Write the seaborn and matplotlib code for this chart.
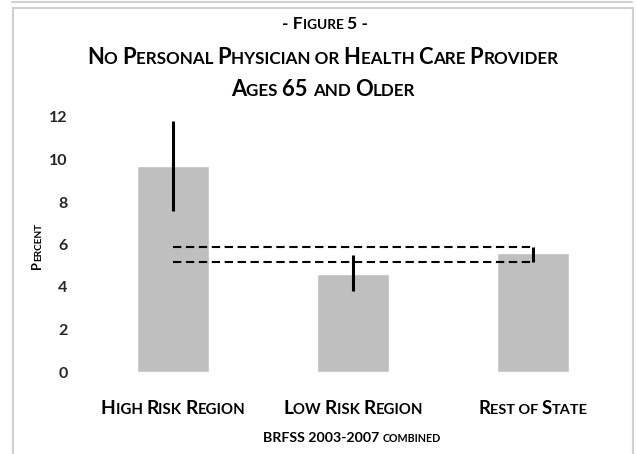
import numpy as np
import pandas as pd
import matplotlib
matplotlib.use("Agg")
import matplotlib.pyplot as plt
import seaborn as sns
from matplotlib.lines import Line2D

# ---- data ----
categories = ["High Risk Region", "Low Risk Region", "Rest of State"]
values = [9.7, 4.6, 5.6]
ci_low = [7.6, 3.8, 5.2]
ci_high = [11.8, 5.5, 5.9]
y_ticks = [0, 2, 4, 6, 8, 10, 12]
title_lines = ["- Figure 5 -", "No Personal Physician or Health Care Provider", "Ages 65 and Older"]
y_label = "Percent"
x_caption = "BRFSS 2003-2007 combined"

W, H = 637, 454
sns.set_theme(style="white")
FONT = ["Lato", "DejaVu Sans"]
plt.rcParams["font.family"] = FONT

fig = plt.figure(figsize=(W / 100, H / 100), dpi=100)
fig.patch.set_facecolor("white")
ax = fig.add_axes([83 / W, 1 - 372 / H, 540 / W, 255 / H])

df = pd.DataFrame({"region": categories, "pct": values})
sns.barplot(data=df, x="region", y="pct", color="#BFBFBF", saturation=1,
            width=0.4, errorbar=None, ax=ax)
# confidence intervals
ax.vlines(np.arange(len(categories)), ci_low, ci_high, color="black", lw=2.2, zorder=3)
# reference band of Rest of State
ax.hlines([ci_low[2], ci_high[2]], 0, len(categories) - 1, color="black", lw=1.5,
          linestyles=(0, (4, 2.2)), zorder=3)

ax.set_xlim(-0.5, 2.5)
ax.set_ylim(0, 12)
ax.set_yticks(y_ticks)
ax.set_yticklabels([str(t) for t in y_ticks], fontsize=11.5, fontweight="bold")
ax.tick_params(axis="y", length=0, pad=11)
ax.set_xticks(range(len(categories)))
ax.set_xticklabels([])
ax.tick_params(axis="x", length=0)
ax.set_xlabel("")
ax.set_ylabel("")
for s in ax.spines.values():
    s.set_visible(False)

renderer = fig.canvas.get_renderer()


def runs_of(text):
    runs = []
    for ch in text:
        small = ch.islower()
        if ch == " " and runs:
            small = runs[-1][1]
        if runs and runs[-1][1] == small:
            runs[-1][0] += ch.upper()
        else:
            runs.append([ch.upper(), small])
    return runs


def measure(s, size):
    t = fig.text(0, 0, "X" + s + "X", fontsize=size, fontweight="bold", family=FONT)
    w1 = t.get_window_extent(renderer).width
    t.set_text("XX")
    w0 = t.get_window_extent(renderer).width
    t.remove()
    return w1 - w0


def layout(text, big, ratio, target=None):
    runs = runs_of(text)
    if target is not None:
        sizes = [big * ratio if sm else big for _, sm in runs]
        tot = sum(measure(r, s) for (r, _), s in zip(runs, sizes))
        big = big * target / tot
    sizes = [big * ratio if sm else big for _, sm in runs]
    widths = [measure(r, s) for (r, _), s in zip(runs, sizes)]
    return runs, sizes, widths


def smallcaps(text, x, y, big, ratio=0.78, target=None):
    runs, sizes, widths = layout(text, big, ratio, target)
    pos = x - sum(widths) / 2
    for (r, _), s, w in zip(runs, sizes, widths):
        fig.text(pos / W, 1 - y / H, r, fontsize=s, fontweight="bold", family=FONT,
                 ha="left", va="baseline", color="black")
        pos += w


def smallcaps_vertical(text, x, ycenter, big, ratio=0.78, target=None):
    runs, sizes, widths = layout(text, big, ratio, target)
    pos = ycenter + sum(widths) / 2
    for (r, _), s, w in zip(runs, sizes, widths):
        fig.text(x / W, 1 - pos / H, r, fontsize=s, fontweight="bold", family=FONT,
                 ha="left", va="baseline", rotation=90, rotation_mode="anchor",
                 color="black")
        pos -= w


smallcaps(title_lines[0], 325, 29, 12, target=85)
smallcaps(title_lines[1], 323, 64, 15, target=470)
smallcaps(title_lines[2], 323, 96, 15, target=184)
targets = [145, 140, 110]
for i, c in enumerate(categories):
    smallcaps(c, 173 + 180 * i, 414, 14, target=targets[i])
smallcaps(x_caption, 352, 442, 10.5, ratio=0.75, target=178)
smallcaps_vertical(y_label, 41, 246, 11, target=46)

# frame lines
frame_col = "#D0D0D0"
fig.add_artist(Line2D([13 / W, 13 / W], [1 - 8 / H, 0], transform=fig.transFigure, color=frame_col, lw=1.5))
fig.add_artist(Line2D([633 / W, 633 / W], [1 - 8 / H, 0], transform=fig.transFigure, color=frame_col, lw=1.5))
fig.add_artist(Line2D([13 / W, 633 / W], [1 - 8 / H, 1 - 8 / H], transform=fig.transFigure, color=frame_col, lw=1.5))
fig.add_artist(Line2D([12 / W, 632 / W], [1 - 1.5 / H, 1 - 1.5 / H], transform=fig.transFigure, color=frame_col, lw=1.5))

fig.savefig("out.png", dpi=100, facecolor="white")
